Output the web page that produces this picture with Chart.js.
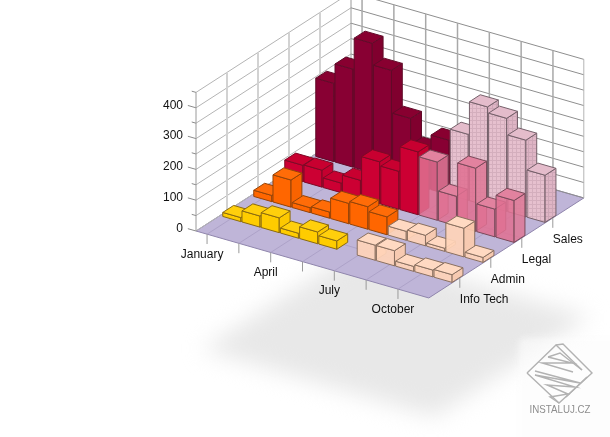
<!DOCTYPE html>
<html>
<head>
<meta charset="utf-8">
<style>
  html, body { margin: 0; padding: 0; background: #fff; }
  canvas { display: block; }
</style>
<script src="https://cdn.jsdelivr.net/npm/chart.js@4/dist/chart.umd.js"></script>
</head>
<body>
<canvas id="chart" width="610" height="437"></canvas>
<script>
// monthly figures per department, null = nothing booked that month
const infoTech = [13, 36, 48, 16, 38, 27, null, 49, 49, 16, 22, 25];
const admin = [20, 88, 16, 20, 66, 73, 58, 29, 34, 10, 93, 16];
const legal = [53, 55, 31, 58, 136, 123, 204, 189, 96, 205, 90, 136];
const sales = [254, 318, 420, 350, 212, 130, 177, 214, 321, 302, 249, 153];

const deptLabels = ['Info Tech', 'Admin', 'Legal', 'Sales'];
const monthLabels = ['January', '', 'April', '', 'July', '', 'October'];
const valueTicks = [0, 100, 200, 300, 400];
const valueGrid = [0, 50, 100, 150, 200, 250, 300, 350, 400, 450];

// oblique projection: 12 month slots wide, 5 rows deep, value goes straight up
const PX_PER_VALUE = 0.308;
const ORIGIN_X = 196;
const ORIGIN_Y = 231;
const MONTH_DX = 19.4, MONTH_DY = 5.58;
const DEPTH_DX = 31, DEPTH_DY = -20;
const SLOTS = 12, ROWS = 5;

function project(m, d, v) {
  return {
    x: ORIGIN_X + m * MONTH_DX + d * DEPTH_DX,
    y: v - (m * MONTH_DY + d * DEPTH_DY) / PX_PER_VALUE
  };
}

// month ticks sit on their own spacing, 1.5 months apart
function monthTickPos(i) {
  return 0.57 + i * 1.64;
}

function hatch(base, line) {
  const c = document.createElement('canvas');
  c.width = c.height = 4;
  const g = c.getContext('2d');
  g.fillStyle = base;
  g.fillRect(0, 0, 4, 4);
  g.fillStyle = line;
  g.fillRect(0, 0, 4, 1);
  g.fillRect(0, 0, 1, 4);
  return g.createPattern(c, 'repeat');
}

const palette = {
  yellow: { front: '#ffcc00', side: '#fdc800', top: '#ffcf0c', edge: '#8a6a10' },
  orange: { front: '#ff6600', side: '#f96300', top: '#ff6c08', edge: '#944408' },
  red: { front: '#cc0033', side: '#c4002f', top: '#c80030', edge: '#7c0a26' },
  dark: { front: '#880033', side: '#80002e', top: '#880030', edge: '#600a28' },
  pink: { front: 'rgba(224,112,145,0.86)', side: 'rgba(221,120,150,0.86)', top: '#e2829f', edge: '#7a4a5a' },
  stripe: { front: hatch('#e6c0ce', '#d4aebd'), side: hatch('#dfb5c5', '#cda6b6'), top: '#e4bccb', edge: '#75606a' },
  peach: { front: 'rgba(255,212,184,0.92)', side: 'rgba(252,204,174,0.92)', top: '#ffd9c2', edge: '#8a7060' }
};

// back row first so nearer bars paint over it
const rows = [
  { values: sales, depth: 3.77, left: 'dark', right: 'stripe', split: 7 },
  { values: legal, depth: 2.77, left: 'red', right: 'pink', split: 7 },
  { values: admin, depth: 1.77, left: 'orange', right: 'peach', split: 7 },
  { values: infoTech, depth: 0.77, left: 'yellow', right: 'peach', split: 6 }
];

const BAR_W = 0.93, BAR_D = 0.35;

function face(points, fill, edge, width) {
  return {
    type: 'face',
    data: points,
    backgroundColor: fill,
    borderColor: edge,
    borderWidth: width === undefined ? 1 : width,
    closed: !!fill,
    clip: false
  };
}

function line(a, b, color, width) {
  return face([a, b], null, color, width);
}

const datasets = [];

// walls and floor
datasets.push(face([project(0, 0, 0), project(0, ROWS, 0), project(SLOTS, ROWS, 0), project(SLOTS, 0, 0)], '#bfb5d8', '#8f85ac'));
for (let d = 1; d < ROWS; d++) datasets.push(line(project(0, d, 0), project(SLOTS, d, 0), '#ada2c8'));
for (let i = 0; i < monthLabels.length; i++) datasets.push(line(project(monthTickPos(i), 0, 0), project(monthTickPos(i), ROWS, 0), '#ada2c8'));
valueGrid.forEach(v => {
  datasets.push(line(project(0, 0, v), project(0, ROWS, v), '#b4b4b4'));
  datasets.push(line(project(0, ROWS, v), project(SLOTS, ROWS, v), '#8e8e8e'));
  datasets.push(line(project(v % 100 === 0 ? -0.42 : -0.22, 0, v), project(0, 0, v), '#8a8a8a'));
});
const wallTop = valueGrid[valueGrid.length - 1];
for (let d = 0; d <= ROWS; d++) {
  const isEdge = d === 0 || d === ROWS;
  datasets.push(line(project(0, d, 0), project(0, d, wallTop), isEdge ? '#9a9a9a' : '#d2d2d2', isEdge ? 1 : 2));
}
for (let i = 0; i < monthLabels.length; i++) {
  datasets.push(line(project(monthTickPos(i), ROWS, 0), project(monthTickPos(i), ROWS, wallTop), '#a8a8a8', 1.5));
}
datasets.push(line(project(SLOTS, ROWS, 0), project(SLOTS, ROWS, wallTop), '#b4b4b4'));

// axis ticks hanging off the floor edges
for (let i = 0; i < monthLabels.length; i++) {
  datasets.push(line(project(monthTickPos(i), 0, 0), project(monthTickPos(i), 0, -32), '#9a9a9a'));
}
for (let d = 1; d < ROWS; d++) {
  datasets.push(line(project(SLOTS, d, 0), project(SLOTS, d, -32), '#9a9a9a'));
}

// the bars
rows.forEach(row => {
  row.values.forEach((v, i) => {
    if (v === null) return;
    const c = palette[i < row.split ? row.left : row.right];
    const m0 = 0.15 + i * 0.99, m1 = m0 + BAR_W;
    const d0 = row.depth, d1 = d0 + BAR_D;
    datasets.push(face([project(m0, d0, 0), project(m0, d0, v), project(m1, d0, v), project(m1, d0, 0)], c.front, c.edge));
    datasets.push(face([project(m1, d0, 0), project(m1, d0, v), project(m1, d1, v), project(m1, d1, 0)], c.side, c.edge));
    datasets.push(face([project(m0, d0, v), project(m0, d1, v), project(m1, d1, v), project(m1, d0, v)], c.top, c.edge));
  });
});

// draws a dataset as one flat polygon (or open line) through its scaled points
class FaceController extends Chart.ScatterController {
  static id = 'face';
  getMaxOverflow() {
    return 0;
  }
  draw() {
    const ctx = this.chart.ctx;
    const ds = this.getDataset();
    const pts = this.getMeta().data;
    ctx.save();
    ctx.beginPath();
    pts.forEach((p, i) => (i ? ctx.lineTo(p.x, p.y) : ctx.moveTo(p.x, p.y)));
    if (ds.closed) {
      ctx.closePath();
      ctx.fillStyle = ds.backgroundColor;
      ctx.fill();
    }
    ctx.lineWidth = ds.borderWidth;
    ctx.strokeStyle = ds.borderColor;
    ctx.stroke();
    ctx.restore();
  }
}
Chart.register(FaceController);

// soft floor shadow under everything, with a pale panel for the stamp
const shadowPlugin = {
  id: 'floorShadow',
  beforeDraw(chart) {
    const { x, y } = chart.scales;
    const ctx = chart.ctx;
    const corners = [[0, 0], [SLOTS, 0], [SLOTS, ROWS], [0, ROWS]].map(c => project(c[0], c[1], -385));
    ctx.save();
    ctx.filter = 'blur(11px)';
    ctx.fillStyle = '#e8e8e8';
    ctx.beginPath();
    corners.forEach((p, i) => {
      const px = x.getPixelForValue(p.x) + 6, py = y.getPixelForValue(p.y);
      i ? ctx.lineTo(px, py) : ctx.moveTo(px, py);
    });
    ctx.closePath();
    ctx.fill();
    ctx.filter = 'blur(3px)';
    ctx.fillStyle = 'rgba(252,252,252,0.65)';
    ctx.beginPath();
    ctx.roundRect(519, 338, 110, 110, 6);
    ctx.fill();
    ctx.restore();
  }
};

const axisLabelPlugin = {
  id: 'axisLabels',
  afterDraw(chart) {
    const { x, y } = chart.scales;
    const ctx = chart.ctx;
    ctx.save();
    ctx.font = '12px "Liberation Sans", Arial, sans-serif';
    ctx.fillStyle = '#111';
    ctx.textBaseline = 'middle';
    ctx.textAlign = 'center';
    monthLabels.forEach((label, i) => {
      if (!label) return;
      const p = project(monthTickPos(i), 0, -32);
      ctx.fillText(label, x.getPixelForValue(p.x) - 5, y.getPixelForValue(p.y) + 10.5);
    });
    ctx.textAlign = 'left';
    deptLabels.forEach((label, i) => {
      const p = project(SLOTS, i + 1, -32);
      ctx.fillText(label, x.getPixelForValue(p.x), y.getPixelForValue(p.y) + 12);
    });
    ctx.restore();
  }
};

// small site stamp in the corner
const stampPlugin = {
  id: 'stamp',
  afterDraw(chart) {
    const ctx = chart.ctx;
    ctx.save();
    ctx.strokeStyle = '#b2b2b2';
    ctx.lineWidth = 1.4;
    const paths = [
      [[527, 373], [556, 345], [582, 370]],
      [[556, 345], [563, 344], [592, 373], [559, 403], [527, 373]],
      [[548, 357], [560, 353], [582, 370]],
      [[548, 357], [572, 363], [542, 363], [573, 372]],
      [[535, 371], [580, 383], [535, 375], [575, 387], [547, 385], [568, 394], [550, 397], [559, 403]],
      [[566, 397], [587, 377]]
    ];
    paths.forEach(path => {
      ctx.beginPath();
      path.forEach((p, i) => (i ? ctx.lineTo(p[0], p[1]) : ctx.moveTo(p[0], p[1])));
      ctx.stroke();
    });
    ctx.fillStyle = '#8e8e8e';
    ctx.font = '11px "Liberation Sans", Arial, sans-serif';
    ctx.textAlign = 'center';
    ctx.textBaseline = 'middle';
    ctx.fillText('INSTALUJ.CZ', 560, 410, 61);
    ctx.restore();
  }
};

new Chart(document.getElementById('chart'), {
  type: 'scatter',
  data: { datasets: datasets.slice().reverse() },
  options: {
    responsive: false,
    animation: false,
    events: [],
    layout: { padding: 0 },
    plugins: { legend: { display: false }, tooltip: { enabled: false } },
    scales: {
      x: { type: 'linear', min: ORIGIN_X, max: 610, display: false },
      y: {
        type: 'linear',
        position: 'left',
        min: -(437 - ORIGIN_Y) / PX_PER_VALUE,
        max: ORIGIN_Y / PX_PER_VALUE,
        grid: { display: false, drawTicks: false },
        border: { display: false },
        ticks: {
          autoSkip: false,
          padding: 13,
          labelOffset: -2.5,
          color: '#111',
          font: { family: '"Liberation Sans", Arial, sans-serif', size: 12 }
        },
        afterBuildTicks: s => { s.ticks = valueTicks.map(value => ({ value })); },
        afterFit: s => {
          s.width = ORIGIN_X;
          s.paddingTop = 0;
          s.paddingBottom = 0;
        }
      }
    }
  },
  plugins: [shadowPlugin, axisLabelPlugin, stampPlugin]
});
</script>
</body>
</html>
